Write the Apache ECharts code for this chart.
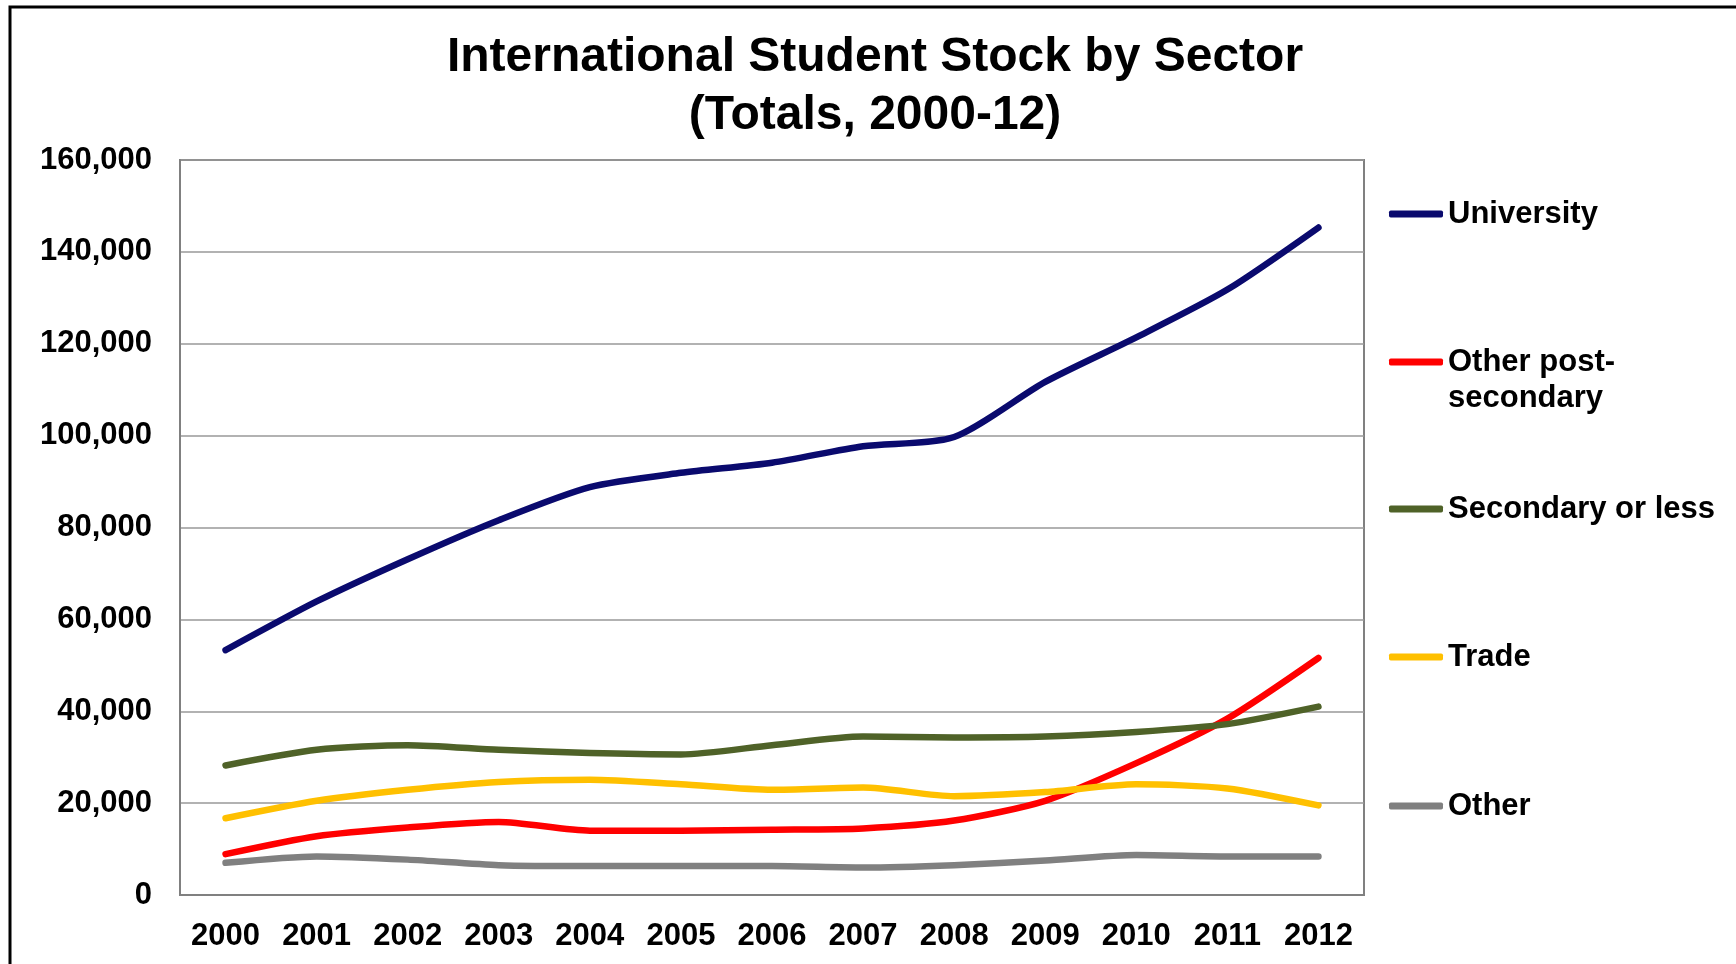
<!DOCTYPE html>
<html>
<head>
<meta charset="utf-8">
<title>International Student Stock by Sector</title>
<script src="https://cdn.jsdelivr.net/npm/echarts@6/dist/echarts.min.js"></script>
<style>
  html, body { margin: 0; padding: 0; background: #fff; }
  #chart { width: 1736px; height: 964px; }
</style>
</head>
<body>
<div id="chart"></div>
<script>
const years = ['2000', '2001', '2002', '2003', '2004', '2005', '2006', '2007', '2008', '2009', '2010', '2011', '2012']

const university = [53300, 63900, 73100, 81600, 88800, 91900, 94100, 97700, 99700, 111700, 121400, 131800, 145300]
const otherPostSecondary = [8900, 12800, 14700, 15900, 14000, 14000, 14200, 14500, 16200, 20500, 28700, 38400, 51600]
const secondaryOrLess = [28200, 31600, 32600, 31600, 30900, 30600, 32600, 34500, 34300, 34500, 35500, 37200, 41000]
const trade = [16700, 20500, 22900, 24600, 25100, 24100, 22900, 23400, 21500, 22400, 24100, 23200, 19500]
const other = [7000, 8400, 7700, 6500, 6300, 6300, 6300, 6000, 6500, 7500, 8700, 8400, 8400]

const yTicks = [0, 20000, 40000, 60000, 80000, 100000, 120000, 140000, 160000]

const FONT = 'Arial, "Liberation Sans", sans-serif'

const SERIES = [
  { name: 'University', data: university, color: '#0a0a6e' },
  { name: 'Other post-secondary', data: otherPostSecondary, color: '#ff0000' },
  { name: 'Secondary or less', data: secondaryOrLess, color: '#4f6228' },
  { name: 'Trade', data: trade, color: '#ffc000' },
  { name: 'Other', data: other, color: '#808080' }
]

// legend rows, icon centre y in px
const LEGEND_Y = [214, 362, 509, 657, 806]

const chart = echarts.init(document.getElementById('chart'))

// the two-line entry gets a blank first line so the icon sits level with "Other post-"
function legendFor(s, i) {
  const twoLine = s.name === 'Other post-secondary'
  return {
    data: [s.name],
    left: 1389,
    top: twoLine ? LEGEND_Y[i] - 54 : LEGEND_Y[i] - 18,
    padding: 0,
    itemWidth: 54,
    itemHeight: 7,
    icon: 'roundRect',
    selectedMode: false,
    formatter: name => name === 'Other post-secondary' ? ' \nOther post-\nsecondary' : name,
    textStyle: {
      fontFamily: FONT,
      fontWeight: 'bold',
      fontSize: 31,
      lineHeight: 36,
      color: '#000'
    }
  }
}

chart.setOption({
  backgroundColor: '#fff',
  animation: false,
  title: {
    text: 'International Student Stock by Sector\n(Totals, 2000-12)',
    left: 875,
    top: 29,
    padding: 0,
    textAlign: 'center',
    textStyle: {
      fontFamily: FONT,
      fontWeight: 'bold',
      fontSize: 48,
      lineHeight: 58,
      color: '#000'
    }
  },
  legend: SERIES.map(legendFor),
  grid: {
    left: 180,
    right: 372,
    top: 160,
    bottom: 69,
    show: true,
    borderColor: '#808080',
    borderWidth: 2,
    containLabel: false
  },
  xAxis: {
    type: 'category',
    data: years,
    boundaryGap: true,
    axisTick: { show: false },
    axisLine: { lineStyle: { color: '#808080', width: 2 } },
    axisLabel: {
      color: '#000',
      fontFamily: FONT,
      fontWeight: 'bold',
      fontSize: 31,
      margin: 26
    },
    splitLine: { show: false }
  },
  yAxis: {
    type: 'value',
    min: yTicks[0],
    max: yTicks[yTicks.length - 1],
    interval: yTicks[1] - yTicks[0],
    axisLine: { show: true, lineStyle: { color: '#808080', width: 2 } },
    axisTick: { show: false },
    axisLabel: {
      color: '#000',
      fontFamily: FONT,
      fontWeight: 'bold',
      fontSize: 31,
      margin: 28,
      formatter: v => v.toLocaleString('en-US')
    },
    splitLine: { lineStyle: { color: '#999', width: 1.5 } }
  },
  graphic: [
    {
      type: 'rect',
      silent: true,
      shape: { x: 10, y: 7, width: 1800, height: 1000 },
      style: { fill: 'none', stroke: '#000', lineWidth: 3 }
    }
  ],
  series: SERIES.map(s => ({
    name: s.name,
    type: 'line',
    data: s.data,
    smooth: 0.25,
    symbol: 'none',
    color: s.color,
    lineStyle: { width: 6.5, color: s.color, cap: 'round', join: 'round' }
  }))
})
</script>
</body>
</html>
